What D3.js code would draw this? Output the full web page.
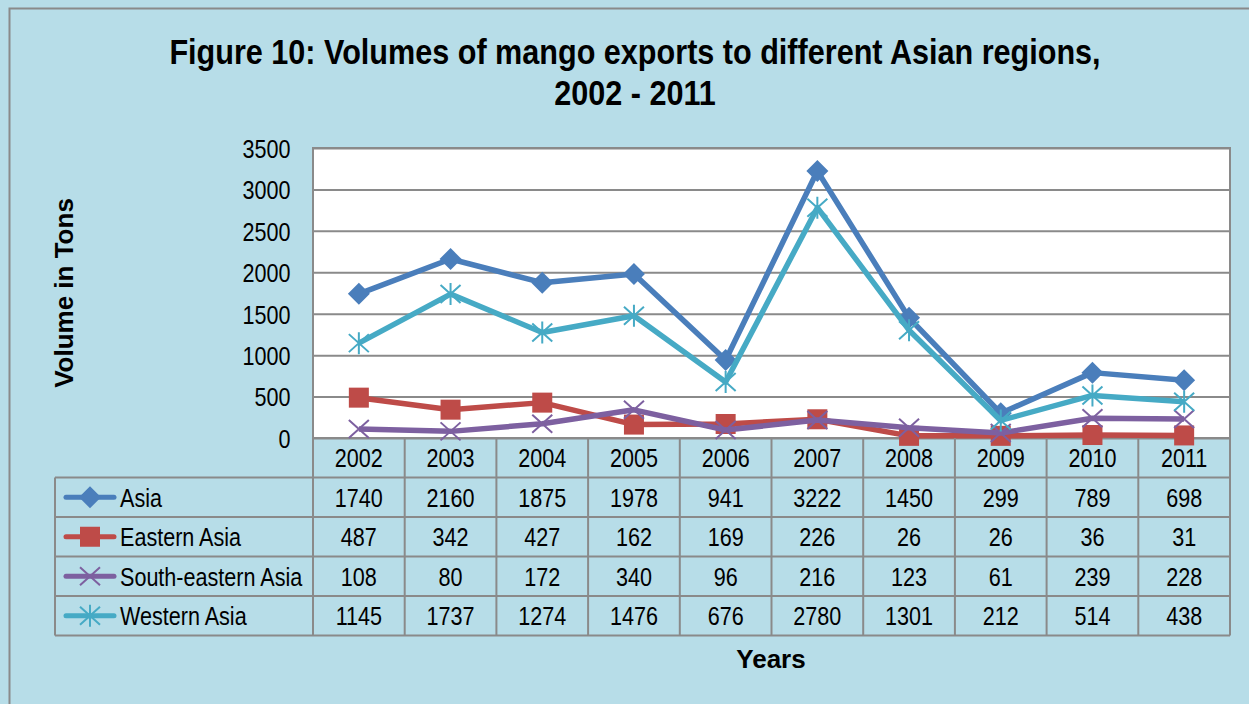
<!DOCTYPE html>
<html>
<head>
<meta charset="utf-8">
<title>Mango exports to Asian regions</title>
<script src="https://d3js.org/d3.v7.min.js"></script>
<style>
  body { margin: 0; background: #b7dde8; }
  svg { display: block; }
  text { font-family: "Liberation Sans", Arial, sans-serif; fill: #000; }
</style>
</head>
<body>
<script>
// data
var years = ["2002", "2003", "2004", "2005", "2006", "2007", "2008", "2009", "2010", "2011"];
var seriesNames = ["Asia", "Eastern Asia", "South-eastern Asia", "Western Asia"];
var asia = [1740, 2160, 1875, 1978, 941, 3222, 1450, 299, 789, 698];
var easternAsia = [487, 342, 427, 162, 169, 226, 26, 26, 36, 31];
var southEasternAsia = [108, 80, 172, 340, 96, 216, 123, 61, 239, 228];
var westernAsia = [1145, 1737, 1274, 1476, 676, 2780, 1301, 212, 514, 438];
var yTicks = [0, 500, 1000, 1500, 2000, 2500, 3000, 3500];

var seriesValues = [asia, easternAsia, southEasternAsia, westernAsia];
var colors = ["#4a7ebb", "#be4b48", "#7d60a0", "#46aac5"];
var markers = ["diamond", "square", "cross", "star"];

var width = 1249, height = 704;
var plotLeft = 313, plotRight = 1230, plotTop = 148, plotBottom = 438;
var tableLeft = 55, rowH = 39.5;
var narrow = 0.83; // no narrow font installed, squeeze the regular one

var svg = d3.select("body").append("svg").attr("width", width).attr("height", height);

// narrow text helper
function ntext(g, x, y, str, size, anchor, sx) {
  return g.append("text")
    .attr("transform", "translate(" + x + "," + y + ") scale(" + (sx || narrow) + ",1)")
    .attr("text-anchor", anchor || "start")
    .attr("dy", "0.36em")
    .attr("font-size", size)
    .text(str);
}

// background + outer border
svg.append("rect").attr("width", width).attr("height", height).attr("fill", "#b7dde8");
svg.append("path").attr("d", "M9.5," + height + "V8.5H" + width)
  .attr("fill", "none").attr("stroke", "#8a8a8a").attr("stroke-width", 2);

// title
ntext(svg, 635, 51, "Figure 10: Volumes of mango exports to different Asian regions,", 36, "middle", 0.85)
  .attr("font-weight", "bold");
ntext(svg, 635, 92, "2002 - 2011", 36, "middle", 0.85).attr("font-weight", "bold");

// scales
var x = d3.scaleBand().domain(years).range([plotLeft, plotRight]);
var y = d3.scaleLinear().domain([0, 3500]).range([plotBottom, plotTop]);

// plot area
svg.append("rect").attr("x", plotLeft).attr("y", plotTop)
  .attr("width", plotRight - plotLeft).attr("height", plotBottom - plotTop)
  .attr("fill", "#fff").attr("stroke", "#8a8a8a").attr("stroke-width", 2);

// y axis with gridlines
var yAxis = svg.append("g").attr("transform", "translate(" + plotLeft + ",0)")
  .call(d3.axisLeft(y).tickValues(yTicks).tickFormat(d3.format("d"))
    .tickSize(-(plotRight - plotLeft)).tickPadding(27));
yAxis.select(".domain").remove();
yAxis.selectAll("line").attr("stroke", "#8a8a8a").attr("stroke-width", 2);
yAxis.selectAll("text").attr("font-size", 26).attr("font-family", null).attr("fill", "#000")
  .attr("dy", "0.36em").attr("transform", "scale(" + narrow + ",1)");

svg.append("text").attr("transform", "translate(73,293) rotate(-90)")
  .attr("text-anchor", "middle").attr("font-size", 26).attr("font-weight", "bold")
  .text("Volume in Tons");

// marker drawing
function drawMarker(g, type, color, cx, cy) {
  if (type === "diamond") {
    g.append("path").attr("d", "M" + cx + "," + (cy - 11) + "L" + (cx + 11) + "," + cy + "L" + cx + "," + (cy + 11) + "L" + (cx - 11) + "," + cy + "Z")
      .attr("fill", color);
  } else if (type === "square") {
    g.append("rect").attr("x", cx - 10).attr("y", cy - 10).attr("width", 20).attr("height", 20)
      .attr("fill", color);
  } else if (type === "cross") {
    g.append("path").attr("d", "M" + (cx - 10) + "," + (cy - 9) + "L" + (cx + 10) + "," + (cy + 9) + "M" + (cx + 10) + "," + (cy - 9) + "L" + (cx - 10) + "," + (cy + 9))
      .attr("stroke", color).attr("stroke-width", 2).attr("fill", "none");
  } else {
    g.append("path").attr("d", "M" + (cx - 10) + "," + (cy - 9) + "L" + (cx + 10) + "," + (cy + 9) + "M" + (cx + 10) + "," + (cy - 9) + "L" + (cx - 10) + "," + (cy + 9) + "M" + cx + "," + (cy - 11) + "V" + (cy + 11))
      .attr("stroke", color).attr("stroke-width", 2).attr("fill", "none");
  }
}

// series lines
var line = d3.line()
  .x(function(d, i) { return x(years[i]) + x.bandwidth() / 2; })
  .y(function(d) { return y(d); });

seriesValues.forEach(function(vals, s) {
  var g = svg.append("g");
  g.append("path").datum(vals).attr("d", line)
    .attr("fill", "none").attr("stroke", colors[s]).attr("stroke-width", 5.5)
    .attr("stroke-linejoin", "round");
  vals.forEach(function(v, i) {
    drawMarker(g, markers[s], colors[s], x(years[i]) + x.bandwidth() / 2, y(v));
  });
});

// data table
var tbl = svg.append("g");
var tableTop = plotBottom + rowH;
var gridColor = "#8a8a8a";

// header row (years)
years.forEach(function(yr) {
  ntext(tbl, x(yr) + x.bandwidth() / 2, plotBottom + rowH / 2, yr, 26, "middle");
});

seriesNames.forEach(function(name, s) {
  var cy = tableTop + rowH * s + rowH / 2;
  tbl.append("line").attr("x1", 66).attr("x2", 114).attr("y1", cy).attr("y2", cy)
    .attr("stroke", colors[s]).attr("stroke-width", 5).attr("stroke-linecap", "round");
  drawMarker(tbl, markers[s], colors[s], 90, cy);
  ntext(tbl, 120, cy, name, 26, "start");
  seriesValues[s].forEach(function(v, i) {
    ntext(tbl, x(years[i]) + x.bandwidth() / 2, cy, v, 26, "middle");
  });
});

// table grid
var tableBottom = tableTop + rowH * seriesNames.length;
for (var r = 0; r <= seriesNames.length; r++) {
  tbl.append("line").attr("x1", tableLeft).attr("x2", plotRight)
    .attr("y1", tableTop + rowH * r).attr("y2", tableTop + rowH * r)
    .attr("stroke", gridColor).attr("stroke-width", 2);
}
tbl.append("line").attr("x1", tableLeft).attr("x2", tableLeft)
  .attr("y1", tableTop).attr("y2", tableBottom).attr("stroke", gridColor).attr("stroke-width", 2);
years.concat(["end"]).forEach(function(yr, i) {
  var xx = i < years.length ? x(yr) : plotRight;
  tbl.append("line").attr("x1", xx).attr("x2", xx)
    .attr("y1", plotBottom).attr("y2", tableBottom).attr("stroke", gridColor).attr("stroke-width", 2);
});

svg.append("text").attr("x", 771).attr("y", 668).attr("text-anchor", "middle")
  .attr("font-size", 26).attr("font-weight", "bold").text("Years");
</script>
</body>
</html>
